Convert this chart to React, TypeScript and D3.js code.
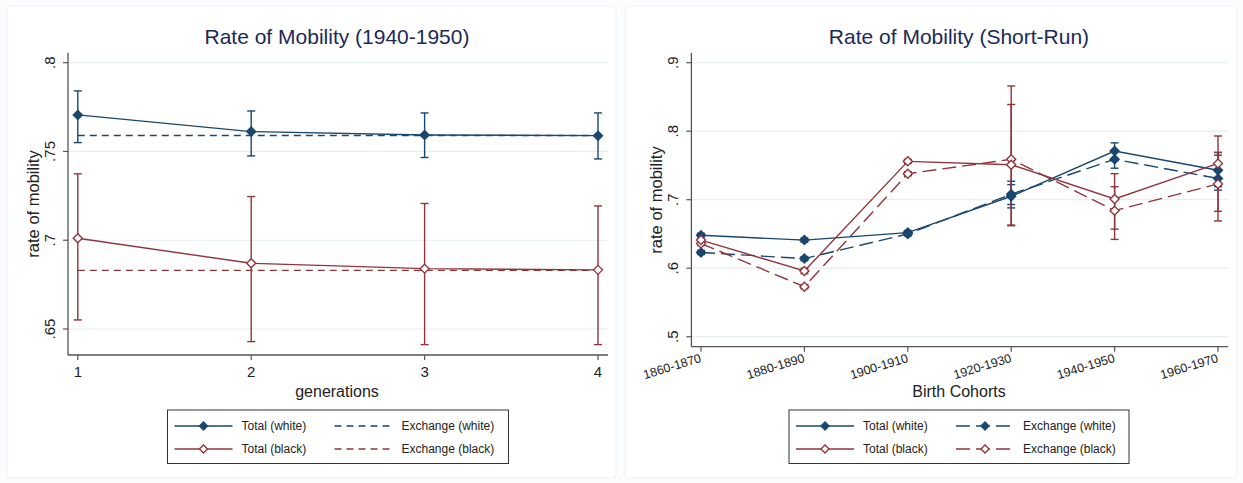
import React from "react";
import * as d3 from "d3";

// ---------- Data: left panel (1940-1950) ----------
const generations = [1, 2, 3, 4];
const genTicks = [1, 2, 3, 4];
const leftYTicks = [0.65, 0.7, 0.75, 0.8];
const leftYLabels = [".65", ".7", ".75", ".8"];

const lWhiteTotal = [0.7706, 0.7612, 0.7593, 0.7589];
const lWhiteTotalLo = [0.755, 0.7475, 0.7466, 0.7458];
const lWhiteTotalHi = [0.7841, 0.7728, 0.7717, 0.7717];
const lWhiteExch = [0.759, 0.759, 0.759, 0.759];

const lBlackTotal = [0.7011, 0.687, 0.684, 0.6833];
const lBlackTotalLo = [0.6551, 0.6429, 0.6412, 0.6412];
const lBlackTotalHi = [0.7374, 0.7246, 0.7207, 0.7193];
const lBlackExch = [0.683, 0.683, 0.683, 0.683];

// ---------- Data: right panel (short-run) ----------
const cohorts = ["1860-1870", "1880-1890", "1900-1910", "1920-1930", "1940-1950", "1960-1970"];
const rightYTicks = [0.5, 0.6, 0.7, 0.8, 0.9];
const rightYLabels = [".5", ".6", ".7", ".8", ".9"];

const rWhiteTotal = [0.648, 0.641, 0.652, 0.705, 0.771, 0.743];
const rWhiteTotalLo = [0.644, 0.638, 0.649, 0.688, 0.757, 0.719];
const rWhiteTotalHi = [0.651, 0.644, 0.655, 0.722, 0.783, 0.769];
const rWhiteExch = [0.623, 0.614, 0.65, 0.708, 0.759, 0.731];
const rWhiteExchLo = [0.62, 0.611, 0.647, 0.693, 0.746, 0.714];
const rWhiteExchHi = [0.626, 0.617, 0.653, 0.727, 0.772, 0.765];
const rBlackTotal = [0.641, 0.596, 0.756, 0.751, 0.701, 0.753];
const rBlackTotalLo = [0.634, 0.592, 0.753, 0.663, 0.657, 0.683];
const rBlackTotalHi = [0.648, 0.6, 0.759, 0.839, 0.738, 0.793];
const rBlackExch = [0.636, 0.573, 0.738, 0.759, 0.684, 0.723];
const rBlackExchLo = [0.633, 0.57, 0.735, 0.662, 0.642, 0.669];
const rBlackExchHi = [0.64, 0.576, 0.741, 0.866, 0.719, 0.769];

const NAVY = "#1a476f";
const RED = "#90353b";
const GRID = "#e6eef1";
const AXIS = "#555555";
const TITLE = "#1b2a57";
const FONT = "'Liberation Sans', Arial, Helvetica, sans-serif";

function Diamond({ x, y, color, filled, r = 4.5 }: any) {
  const p = `M${x},${y - r}L${x + r},${y}L${x},${y + r}L${x - r},${y}Z`;
  return <path d={p} fill={filled ? color : "#fff"} stroke={color} strokeWidth={1.4} />;
}

function ErrBars({ xs, lo, hi, color, cap = 4 }: any) {
  return (
    <g stroke={color} strokeWidth={1.4}>
      {xs.map((x: number, i: number) => (
        <g key={i}>
          <line x1={x} x2={x} y1={lo[i]} y2={hi[i]} />
          <line x1={x - cap} x2={x + cap} y1={lo[i]} y2={lo[i]} />
          <line x1={x - cap} x2={x + cap} y1={hi[i]} y2={hi[i]} />
        </g>
      ))}
    </g>
  );
}

function Legend({ x0, x1, y0, y1, exchMarkers }: any) {
  const r1 = y0 + 16;
  const r2 = y0 + 39;
  const c1 = x0 + 7;
  const c2 = x0 + 167;
  const lw = 58;
  return (
    <g fontFamily={FONT} fontSize={12} fill="#222">
      <rect x={x0} y={y0} width={x1 - x0} height={y1 - y0} fill="#fff" stroke="#333" strokeWidth={1} />
      <line x1={c1} x2={c1 + lw} y1={r1} y2={r1} stroke={NAVY} strokeWidth={1.4} />
      <Diamond x={c1 + lw / 2} y={r1} color={NAVY} filled r={4} />
      <text x={c1 + lw + 9} y={r1 + 4}>Total (white)</text>
      <line x1={c1} x2={c1 + lw} y1={r2} y2={r2} stroke={RED} strokeWidth={1.4} />
      <Diamond x={c1 + lw / 2} y={r2} color={RED} filled={false} r={4} />
      <text x={c1 + lw + 9} y={r2 + 4}>Total (black)</text>
      <line x1={c2} x2={c2 + lw} y1={r1} y2={r1} stroke={NAVY} strokeWidth={1.4}
        strokeDasharray={exchMarkers ? "14 6" : "7 5"} />
      {exchMarkers && <Diamond x={c2 + lw / 2} y={r1} color={NAVY} filled r={4} />}
      <text x={c2 + lw + 9} y={r1 + 4}>Exchange (white)</text>
      <line x1={c2} x2={c2 + lw} y1={r2} y2={r2} stroke={RED} strokeWidth={1.4}
        strokeDasharray={exchMarkers ? "14 6" : "7 5"} />
      {exchMarkers && <Diamond x={c2 + lw / 2} y={r2} color={RED} filled={false} r={4} />}
      <text x={c2 + lw + 9} y={r2 + 4}>Exchange (black)</text>
    </g>
  );
}

function LeftPanel() {
  const axisX = 68, right = 608, top = 52.7, bottom = 355;
  const x = d3.scaleLinear().domain([1, 4]).range([77.8, 598]);
  const y = d3.scaleLinear().domain([0.63535, 0.80563]).range([bottom, top]);
  const xs = generations.map((g) => x(g));
  const line = d3.line<number>().x((_, i) => xs[i]).y((v) => y(v));
  return (
    <g>
      <rect x={7} y={6} width={609} height={472} fill="#fff" stroke="#eef1f4" rx={4} />
      <text x={337} y={44} textAnchor="middle" fontFamily={FONT} fontSize={21} fill={TITLE}>
        Rate of Mobility (1940-1950)
      </text>
      {leftYTicks.map((t) => (
        <line key={t} x1={axisX} x2={right} y1={y(t)} y2={y(t)} stroke={GRID} strokeWidth={1.2} />
      ))}
      <line x1={axisX} x2={axisX} y1={top} y2={bottom} stroke={AXIS} strokeWidth={1.3} />
      <line x1={axisX} x2={right} y1={bottom} y2={bottom} stroke={AXIS} strokeWidth={1.3} />
      {leftYTicks.map((t, i) => (
        <g key={t}>
          <line x1={axisX - 5} x2={axisX} y1={y(t)} y2={y(t)} stroke={AXIS} strokeWidth={1.2} />
          <text transform={`translate(${axisX - 13},${y(t)}) rotate(-90)`} textAnchor="middle"
            fontFamily={FONT} fontSize={15} fill="#222">{leftYLabels[i]}</text>
        </g>
      ))}
      {genTicks.map((g) => (
        <g key={g}>
          <line x1={x(g)} x2={x(g)} y1={bottom} y2={bottom + 5} stroke={AXIS} strokeWidth={1.2} />
          <text x={x(g)} y={bottom + 22} textAnchor="middle" fontFamily={FONT} fontSize={15} fill="#222">{g}</text>
        </g>
      ))}
      <text x={337} y={397} textAnchor="middle" fontFamily={FONT} fontSize={16} fill="#222">generations</text>
      <text transform={`translate(${39},${204}) rotate(-90)`} textAnchor="middle" fontFamily={FONT}
        fontSize={16.5} fill="#222">rate of mobility</text>

      <path d={line(lWhiteExch) || ""} fill="none" stroke={NAVY} strokeWidth={1.4} strokeDasharray="7 5" />
      <path d={line(lBlackExch) || ""} fill="none" stroke={RED} strokeWidth={1.4} strokeDasharray="7 5" />
      <ErrBars xs={xs} lo={lWhiteTotalLo.map(y)} hi={lWhiteTotalHi.map(y)} color={NAVY} />
      <ErrBars xs={xs} lo={lBlackTotalLo.map(y)} hi={lBlackTotalHi.map(y)} color={RED} />
      <path d={line(lWhiteTotal) || ""} fill="none" stroke={NAVY} strokeWidth={1.4} />
      <path d={line(lBlackTotal) || ""} fill="none" stroke={RED} strokeWidth={1.4} />
      {lWhiteTotal.map((v, i) => <Diamond key={i} x={xs[i]} y={y(v)} color={NAVY} filled />)}
      {lBlackTotal.map((v, i) => <Diamond key={i} x={xs[i]} y={y(v)} color={RED} filled={false} />)}

      <Legend x0={167.5} x1={508.5} y0={410} y1={463.5} exchMarkers={false} />
    </g>
  );
}

function RightPanel() {
  const axisX = 691.4, right = 1228, top = 52.7, bottom = 346.7;
  const x = d3.scalePoint<string>().domain(cohorts).range([701, 1218]);
  const y = d3.scaleLinear().domain([0.4854, 0.9146]).range([bottom, top]);
  const xs = cohorts.map((c) => x(c) as number);
  const line = d3.line<number>().x((_, i) => xs[i]).y((v) => y(v));
  return (
    <g>
      <rect x={625} y={6} width={612} height={472} fill="#fff" stroke="#eef1f4" rx={4} />
      <text x={959} y={44} textAnchor="middle" fontFamily={FONT} fontSize={21} fill={TITLE}>
        Rate of Mobility (Short-Run)
      </text>
      {rightYTicks.map((t) => (
        <line key={t} x1={axisX} x2={right} y1={y(t)} y2={y(t)} stroke={GRID} strokeWidth={1.2} />
      ))}
      <line x1={axisX} x2={axisX} y1={top} y2={bottom} stroke={AXIS} strokeWidth={1.3} />
      <line x1={axisX} x2={right} y1={bottom} y2={bottom} stroke={AXIS} strokeWidth={1.3} />
      {rightYTicks.map((t, i) => (
        <g key={t}>
          <line x1={axisX - 5} x2={axisX} y1={y(t)} y2={y(t)} stroke={AXIS} strokeWidth={1.2} />
          <text transform={`translate(${axisX - 13},${y(t)}) rotate(-90)`} textAnchor="middle"
            fontFamily={FONT} fontSize={15} fill="#222">{rightYLabels[i]}</text>
        </g>
      ))}
      {cohorts.map((c) => (
        <g key={c}>
          <line x1={x(c)} x2={x(c)} y1={bottom} y2={bottom + 5} stroke={AXIS} strokeWidth={1.2} />
          <text transform={`translate(${(x(c) as number) + 1},${bottom + 15}) rotate(-17)`} textAnchor="end"
            fontFamily={FONT} fontSize={12.5} fill="#222">{c}</text>
        </g>
      ))}
      <text x={959} y={397} textAnchor="middle" fontFamily={FONT} fontSize={16} fill="#222">Birth Cohorts</text>
      <text transform={`translate(${662},${200}) rotate(-90)`} textAnchor="middle" fontFamily={FONT}
        fontSize={16.5} fill="#222">rate of mobility</text>

      <ErrBars xs={xs} lo={rWhiteTotalLo.map(y)} hi={rWhiteTotalHi.map(y)} color={NAVY} />
      <ErrBars xs={xs} lo={rWhiteExchLo.map(y)} hi={rWhiteExchHi.map(y)} color={NAVY} />
      <ErrBars xs={xs} lo={rBlackTotalLo.map(y)} hi={rBlackTotalHi.map(y)} color={RED} />
      <ErrBars xs={xs} lo={rBlackExchLo.map(y)} hi={rBlackExchHi.map(y)} color={RED} />
      <path d={line(rWhiteExch) || ""} fill="none" stroke={NAVY} strokeWidth={1.4} strokeDasharray="14 6" />
      <path d={line(rBlackExch) || ""} fill="none" stroke={RED} strokeWidth={1.4} strokeDasharray="14 6" />
      <path d={line(rWhiteTotal) || ""} fill="none" stroke={NAVY} strokeWidth={1.4} />
      <path d={line(rBlackTotal) || ""} fill="none" stroke={RED} strokeWidth={1.4} />
      {rWhiteExch.map((v, i) => <Diamond key={"we" + i} x={xs[i]} y={y(v)} color={NAVY} filled />)}
      {rWhiteTotal.map((v, i) => <Diamond key={"wt" + i} x={xs[i]} y={y(v)} color={NAVY} filled />)}
      {rBlackExch.map((v, i) => <Diamond key={"be" + i} x={xs[i]} y={y(v)} color={RED} filled={false} />)}
      {rBlackTotal.map((v, i) => <Diamond key={"bt" + i} x={xs[i]} y={y(v)} color={RED} filled={false} />)}

      <Legend x0={789} x1={1129} y0={410} y1={463.5} exchMarkers={true} />
    </g>
  );
}

export default function App() {
  return (
    <svg width={1243} height={483} style={{ position: "absolute", left: 0, top: 0, background: "#fff" }}>
      <rect x={0} y={0} width={1243} height={483} fill="#fbfcfd" />
      <LeftPanel />
      <RightPanel />
    </svg>
  );
}
